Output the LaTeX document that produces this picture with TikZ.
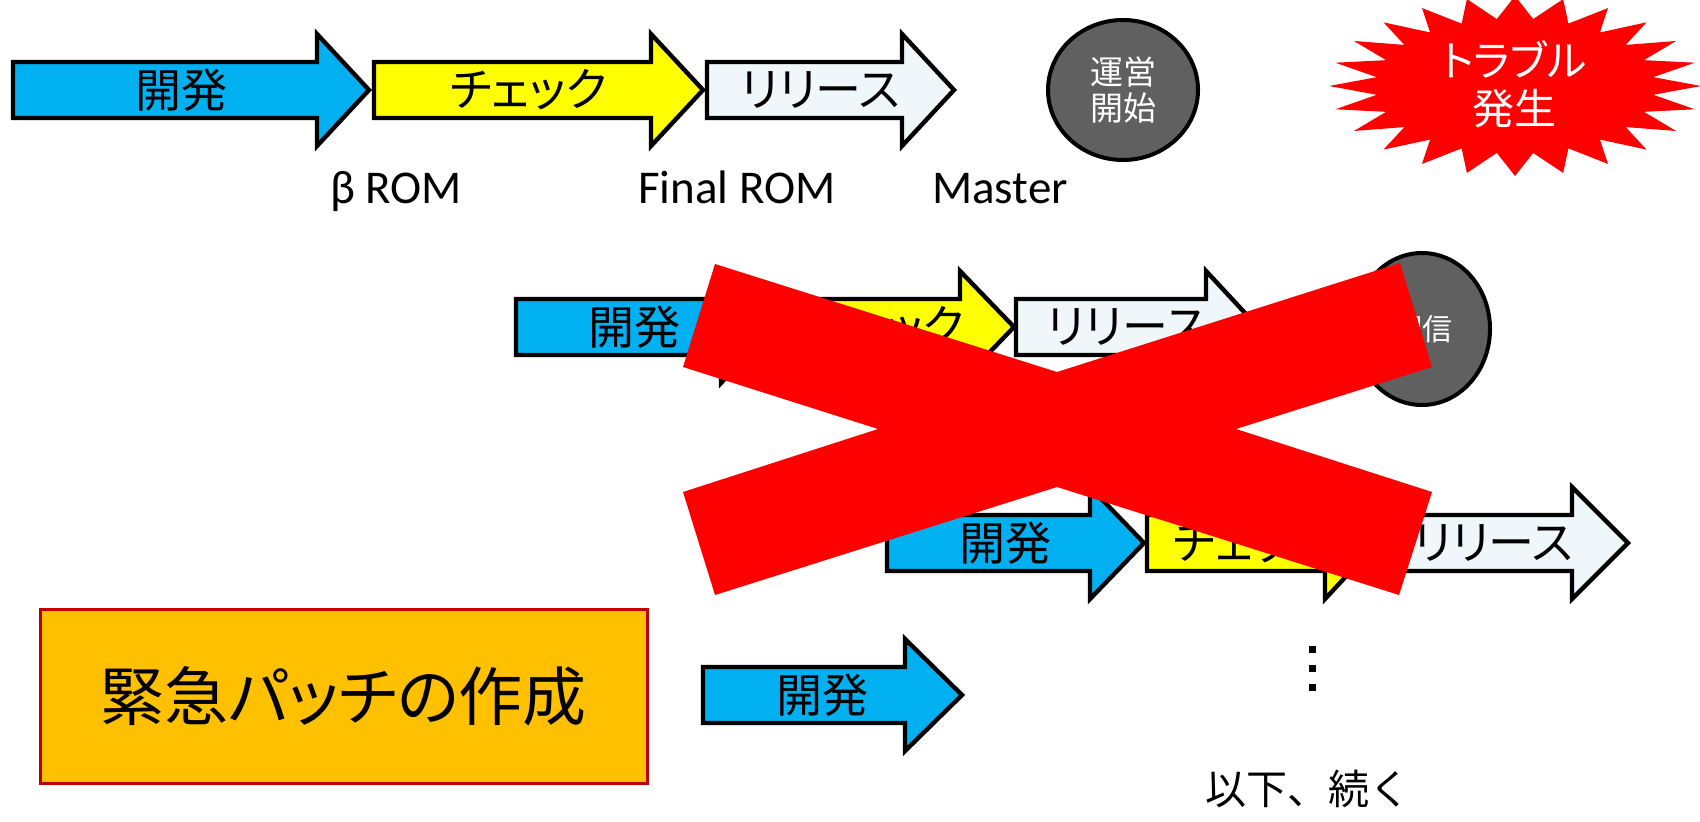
\documentclass[tikz,border=0pt]{standalone}
\usetikzlibrary{shapes.geometric}
\usepackage{fontspec}
\setmainfont{Carlito}
\newfontfamily\jp[RawFeature=+palt]{Noto Sans CJK JP}
\newfontfamily\jpfull{Noto Sans CJK JP}
\definecolor{devblue}{HTML}{00B0F0}
\definecolor{chkyellow}{HTML}{FFFF00}
\definecolor{relwhite}{HTML}{F0F7FA}
\definecolor{ovalgray}{HTML}{606060}
\definecolor{patchorange}{HTML}{FFC000}
\definecolor{patchred}{HTML}{C00000}
\definecolor{xred}{HTML}{FF0000}
\tikzset{
  arrline/.style={draw=black, line width=2.2pt, line join=miter},
  arrtext/.style={font=\fontsize{23}{25}\selectfont\jp, inner sep=0pt},
  oval/.style={ellipse, draw=black, line width=2pt, fill=ovalgray, text=white, inner sep=0pt, align=center},
  patchbox/.style={rectangle, draw=patchred, line width=1.5pt, fill=patchorange, font=\fontsize{32}{34}\selectfont\jp},
  romlabel/.style={font=\fontsize{23.5}{25}\selectfont, anchor=base, inner sep=0pt},
  bursttext/.style={font=\fontsize{21}{24}\selectfont\jp, text=white, align=center, inner sep=0pt},
}
% name, colour, left, head x, tip x, centre y, text
\newcommand{\flowarrow}[7]{%
  \draw[arrline, fill=#2] (#3,#6-28) -- (#4,#6-28) -- (#4,#6-56) -- (#5,#6) -- (#4,#6+56) -- (#4,#6+28) -- (#3,#6+28) -- cycle;
  \node[arrtext] (#1) at ({(#3+#5)/2-10},#6) {#7};
}
\begin{document}
\begin{tikzpicture}[x=0.5pt,y=-0.5pt]
\useasboundingbox (0,0) rectangle (1700,822);

% row 1
\flowarrow{aDev}{devblue}{13}{317}{369}{90}{開発}
\flowarrow{aChk}{chkyellow}{374}{651}{703}{90}{チェック}
\flowarrow{aRel}{relwhite}{707}{902}{954}{90}{リリース}
\node[oval, minimum width=75pt, minimum height=70pt, font=\fontsize{16.5}{18}\selectfont\jp] (start) at (1123,90) {運営\\開始};
\fill[xred] plot[samples at={0,...,47}, variable=\i] ({1515+186*(1-0.25*mod(\i,2))*cos(\i*7.5)}, {86+90*(1-0.25*mod(\i,2))*sin(\i*7.5)}) -- cycle;
\node[bursttext] (trouble) at (1514,84) {トラブル\\発生};
\node[romlabel] (beta) at (396,204) {β ROM};
\node[romlabel] (final) at (737,204) {Final ROM};
\node[romlabel] (master) at (1000,204) {Master};

% row 2
\flowarrow{bDev}{devblue}{516}{721}{773}{327}{開発}
\flowarrow{bChk}{chkyellow}{777}{960}{1014}{327}{チェック}
\flowarrow{bRel}{relwhite}{1016}{1206}{1258}{327}{リリース}
\node[oval, minimum width=68pt, minimum height=76pt, font=\fontsize{15}{17}\selectfont\jp] (deliver) at (1422,329) {配信};

% row 3
\flowarrow{cDev}{devblue}{887}{1090}{1144}{543}{開発}
\flowarrow{cChk}{chkyellow}{1147}{1325}{1377}{543}{チェック}
\flowarrow{cRel}{relwhite}{1379}{1572}{1628}{543}{リリース}

% red cross
\fill[xred] (715,264) -- (1057,372) -- (1400,263) -- (1432,367) -- (1236,429) -- (1432,492) -- (1399,595) -- (1057,487) -- (715,595) -- (683,492) -- (878,429) -- (683,367) -- cycle;

% row 4
\node[patchbox, minimum width=303.5pt, minimum height=87pt] (patch) at (343.5,696) {緊急パッチの作成};
\flowarrow{dDev}{devblue}{703}{905}{962}{695}{開発}

\fill (1309,646) rectangle ++(7,7);
\fill (1309,665) rectangle ++(7,7);
\fill (1309,684) rectangle ++(7,7);
\node[font=\fontsize{20.5}{22}\selectfont\jpfull, inner sep=0pt] (cont) at (1308,789) {以下、続く};
\end{tikzpicture}
\end{document}
